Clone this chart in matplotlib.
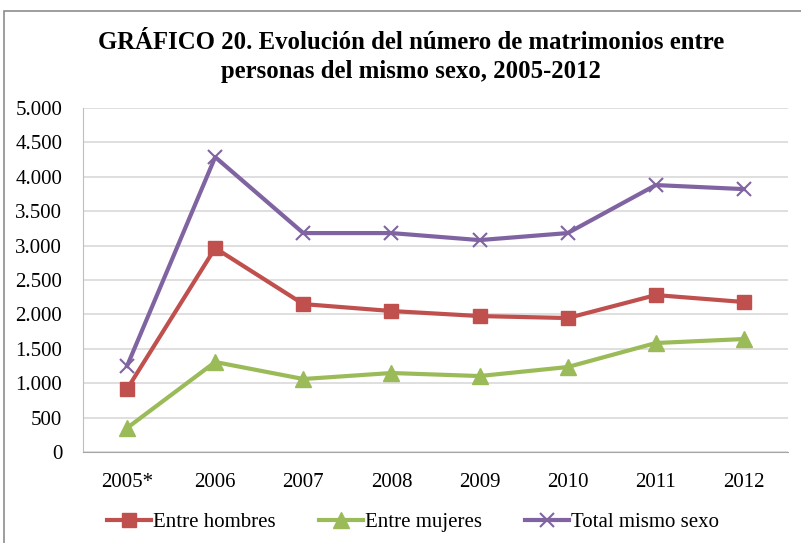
import matplotlib
matplotlib.use("Agg")
import matplotlib.pyplot as plt
from matplotlib.ticker import FuncFormatter, MultipleLocator
from matplotlib.patches import Rectangle

categories = ["2005*", "2006", "2007", "2008", "2009", "2010", "2011", "2012"]
hombres = [915, 2964, 2150, 2049, 1976, 1947, 2281, 2180]
mujeres = [349, 1308, 1061, 1148, 1104, 1235, 1584, 1642]
total = [1250, 4287, 3182, 3182, 3080, 3182, 3880, 3821]

plt.rcParams['font.family'] = ['Liberation Serif', 'DejaVu Serif']

fig = plt.figure(figsize=(8.01, 5.43), dpi=100)
fig.patch.set_facecolor('white')
fig.patches.append(Rectangle((4/801, -0.01), 1.0, 1 - 11/543 + 0.01, transform=fig.transFigure,
                             fill=False, edgecolor='#8c8c8c', linewidth=1.2))

ax = fig.add_axes([83/801, 1 - 452/543, (788 - 83)/801, (452 - 108)/543])
x = list(range(len(categories)))
ax.plot(x, hombres, color='#C0504D', linewidth=3, marker='s', markersize=10, label='Entre hombres')
ax.plot(x, mujeres, color='#9BBB59', linewidth=3, marker='^', markersize=11, label='Entre mujeres')
ax.plot(x, total, color='#8064A2', linewidth=3, marker='x', markersize=10, markeredgewidth=1.5,
        label='Total mismo sexo')

ax.set_xlim(-0.5, len(categories) - 0.5)
ax.set_ylim(0, 5000)
ax.yaxis.set_major_locator(MultipleLocator(500))
ax.yaxis.set_major_formatter(FuncFormatter(lambda v, p: f"{int(v):,}".replace(",", ".")))
ax.set_xticks(x)
ax.set_xticklabels(categories)
ax.grid(axis='y', color='#d9d9d9', linewidth=1.2)
ax.set_axisbelow(True)
for s in ['top', 'right']:
    ax.spines[s].set_visible(False)
ax.spines['left'].set_color('#bfbfbf')
ax.spines['bottom'].set_color('#a6a6a6')
ax.tick_params(axis='both', length=0, labelsize=15, colors='black')
ax.tick_params(axis='y', pad=15)
ax.tick_params(axis='x', pad=15)

fig.text(0.513, 1 - 57/543, "GRÁFICO 20. Evolución del número de matrimonios entre\npersonas del mismo sexo, 2005-2012",
         ha='center', va='center', fontsize=17.8, fontweight='bold', linespacing=1.35)

leg = fig.legend(loc='center', bbox_to_anchor=(0.516, 1 - 522/543), ncol=3, frameon=False,
                 fontsize=15, handlelength=2.1, columnspacing=2.08, handletextpad=0.1)

fig.savefig("out.png", dpi=100)
